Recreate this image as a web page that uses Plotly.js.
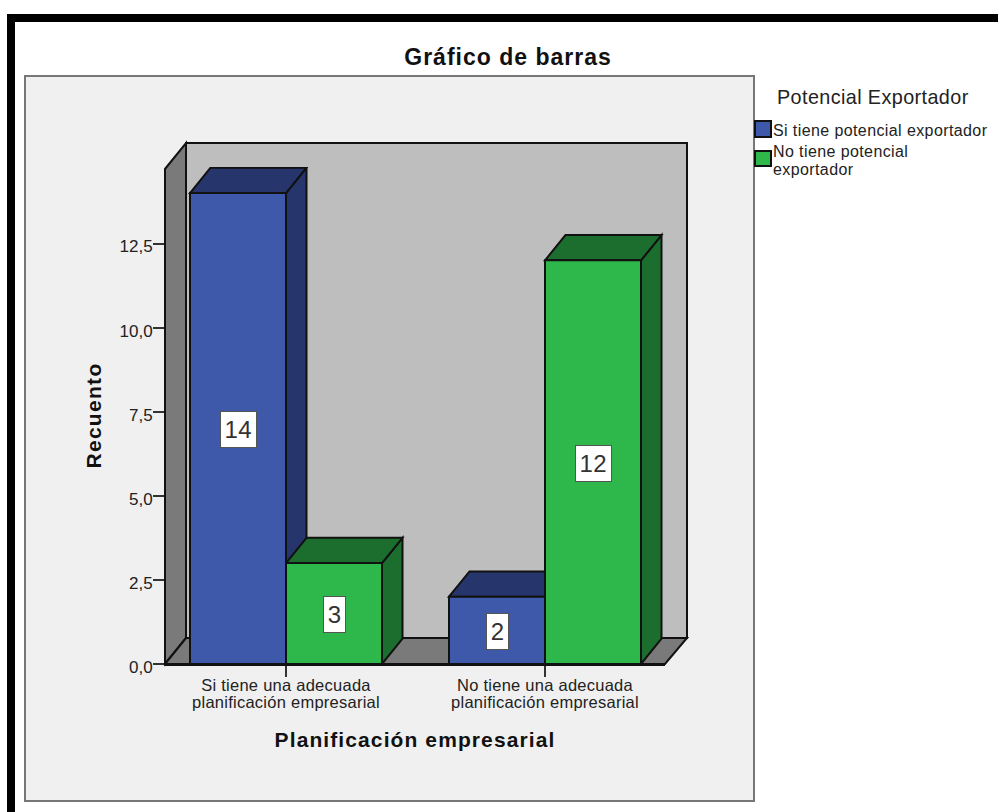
<!DOCTYPE html>
<html>
<head>
<meta charset="utf-8">
<script src="https://cdn.plot.ly/plotly-3.0.1.min.js"></script>
<style>
html,body{margin:0;padding:0;background:#fff}
#chart{width:998px;height:812px}
#chart .gtitle{letter-spacing:1px}
#chart .xtitle{letter-spacing:1.1px}
#chart .ytitle{letter-spacing:1.3px}
#chart .xtick text{letter-spacing:.25px}
#chart .annotation-text{letter-spacing:.4px}
</style>
</head>
<body>
<div id="chart"></div>
<script>
// Clustered bar chart with a box-style 3D look: counts by planning and export potential.
const categories = ["Si tiene una adecuada<br>planificación empresarial", "No tiene una adecuada<br>planificación empresarial"];
const seriesNames = ["Si tiene potencial exportador", "No tiene potencial<br>exportador"];
const siTiene = [14, 2];
const noTiene = [3, 12];
const tickValues = [0, 2.5, 5, 7.5, 10, 12.5];
const tickLabels = ["0,0", "2,5", "5,0", "7,5", "10,0", "12,5"];

const frontColors = ["#3e58aa", "#2eb84b"];
const sideColors = ["#26356b", "#1c6e2e"];
const edge = "#111111";
const textColor = "#222222";
const font = "Liberation Sans, Arial, sans-serif";

// Plot rectangle in page pixels
const W = 998, H = 812;
const plot = {l: 165, r: 665, t: 167, b: 664};
const barWidth = 96 / 259;          // in category units
const depthX = 20.5 / 259;          // receding offset, category units
const depthY = 25.3 / 33.64;        // receding offset, count units
const xRange = [(165 - 286) / 259, (665 - 286) / 259];
const yRange = [0, (664 - 167) / 33.64];

const px = v => (v - plot.l) / (plot.r - plot.l);
const py = v => (plot.b - v) / (plot.b - plot.t);
const pagePath = pts => "M" + pts.map(p => px(p[0]) + "," + py(p[1])).join("L") + "Z";
const pageShape = (pts, fill, line, width) => ({
  type: "path", xref: "paper", yref: "paper", layer: "below", path: pagePath(pts),
  fillcolor: fill, line: {color: line, width: width}
});
const pageRect = (x0, y0, x1, y1, fill, line, width, layer) => ({
  type: "rect", xref: "paper", yref: "paper", layer: layer || "below",
  x0: px(x0), x1: px(x1), y0: py(y0), y1: py(y1),
  fillcolor: fill, line: {color: line, width: width}
});
const dataPath = pts => "M" + pts.map(p => p[0] + "," + p[1]).join("L") + "Z";

const shapes = [
  pageRect(7, 14, 15, 812, "#000", "#000", 0),
  pageRect(7, 14, 998, 22, "#000", "#000", 0),
  pageRect(25, 76, 754, 801, "#f0f0f0", "#777", 2),
  // back wall, side wall and floor of the box
  pageRect(186, 143, 687, 638, "#bebebe", edge, 2),
  pageShape([[165, 169], [186, 143], [186, 638], [165, 664]], "#7a7a7a", edge, 2),
  pageShape([[165, 664], [186, 638], [687, 638], [665, 664]], "#7a7a7a", edge, 2)
];

// Top and side faces of every bar, drawn in category order
categories.forEach((c, i) => {
  [siTiene, noTiene].forEach((vals, s) => {
    const x0 = i - barWidth + s * barWidth, x1 = x0 + barWidth, v = vals[i];
    const style = {type: "path", xref: "x", yref: "y", layer: "below",
      fillcolor: sideColors[s], line: {color: edge, width: 2}};
    shapes.push(Object.assign({}, style, {path: dataPath([[x1, 0], [x1 + depthX, depthY], [x1 + depthX, v + depthY], [x1, v]])}));
    shapes.push(Object.assign({}, style, {path: dataPath([[x0, v], [x0 + depthX, v + depthY], [x1 + depthX, v + depthY], [x1, v]])}));
  });
});

// Legend swatches
shapes.push(pageRect(755, 121, 771, 137, frontColors[0], edge, 2, "above"));
shapes.push(pageRect(755, 151, 771, 166, frontColors[1], edge, 2, "above"));

const annotations = [];
[siTiene, noTiene].forEach((vals, s) => {
  vals.forEach((v, i) => annotations.push({
    x: i - barWidth / 2 + s * barWidth, y: v / 2, xref: "x", yref: "y", yshift: -1,
    text: String(v), showarrow: false, bgcolor: "#fff", bordercolor: "#555", borderwidth: 1, borderpad: 4,
    font: {family: font, size: 24, color: "#333"}
  }));
});
const pageText = (x, y, text, size, anchor) => ({
  x: px(x), y: py(y), xref: "paper", yref: "paper", text: text, showarrow: false,
  xanchor: anchor, yanchor: "middle", align: "left",
  font: {family: font, size: size, color: textColor}
});
annotations.push(pageText(775, 97, "Potencial Exportador", 19.8, "left"));
annotations.push(pageText(771, 130, seriesNames[0], 16, "left"));
seriesNames[1].split("<br>").forEach((line, k) => annotations.push(pageText(771, 151 + 18 * k, line, 16, "left")));

const trace = (name, y, s) => ({
  type: "bar", name: name.replace("<br>", " "), x: categories, y: y,
  marker: {color: frontColors[s], line: {color: edge, width: 2}}, showlegend: false, hoverinfo: "x+y+name"
});

const layout = {
  width: W, height: H,
  margin: {l: plot.l, r: W - plot.r, t: plot.t, b: H - plot.b, pad: 0},
  paper_bgcolor: "#ffffff", plot_bgcolor: "rgba(0,0,0,0)",
  barmode: "group", bargap: 1 - 2 * barWidth, bargroupgap: 0,
  showlegend: false,
  title: {text: "<b>Gráfico de barras</b>", x: 508 / W, xanchor: "center", y: 1 - 57 / H, yanchor: "middle",
          font: {family: font, size: 23, color: "#111"}},
  xaxis: {
    type: "category", categoryorder: "array", categoryarray: categories, range: xRange,
    showgrid: false, zeroline: false, showline: true, linecolor: edge, linewidth: 2,
    ticks: "outside", ticklen: 11, tickwidth: 2, tickcolor: "#333",
    tickfont: {family: font, size: 16.5, color: textColor}, ticklabelstandoff: -6,
    title: {text: "<b>Planificación empresarial</b>", standoff: 18, font: {family: font, size: 21, color: "#111"}}
  },
  yaxis: {
    range: yRange, tickmode: "array", tickvals: tickValues, ticktext: tickLabels,
    showgrid: false, zeroline: false, showline: false,
    ticks: "outside", ticklen: 11, tickwidth: 2, tickcolor: "#333",
    tickfont: {family: font, size: 17, color: textColor}, ticklabelstandoff: -3, ticklabelshift: 3,
    title: {text: "<b>Recuento</b>", standoff: 12, font: {family: font, size: 21, color: "#111"}}
  },
  shapes: shapes,
  annotations: annotations
};

Plotly.newPlot("chart", [trace(seriesNames[0], siTiene, 0), trace(seriesNames[1], noTiene, 1)], layout, {displayModeBar: false, responsive: false}).then(gd => {
  // Tighter leading for the two-line category labels
  gd.querySelectorAll(".xtick text tspan.line").forEach(t => {
    if (t.getAttribute("dy") && t.getAttribute("dy") !== "0em") t.setAttribute("dy", "1.03em");
  });
});
</script>
</body>
</html>
